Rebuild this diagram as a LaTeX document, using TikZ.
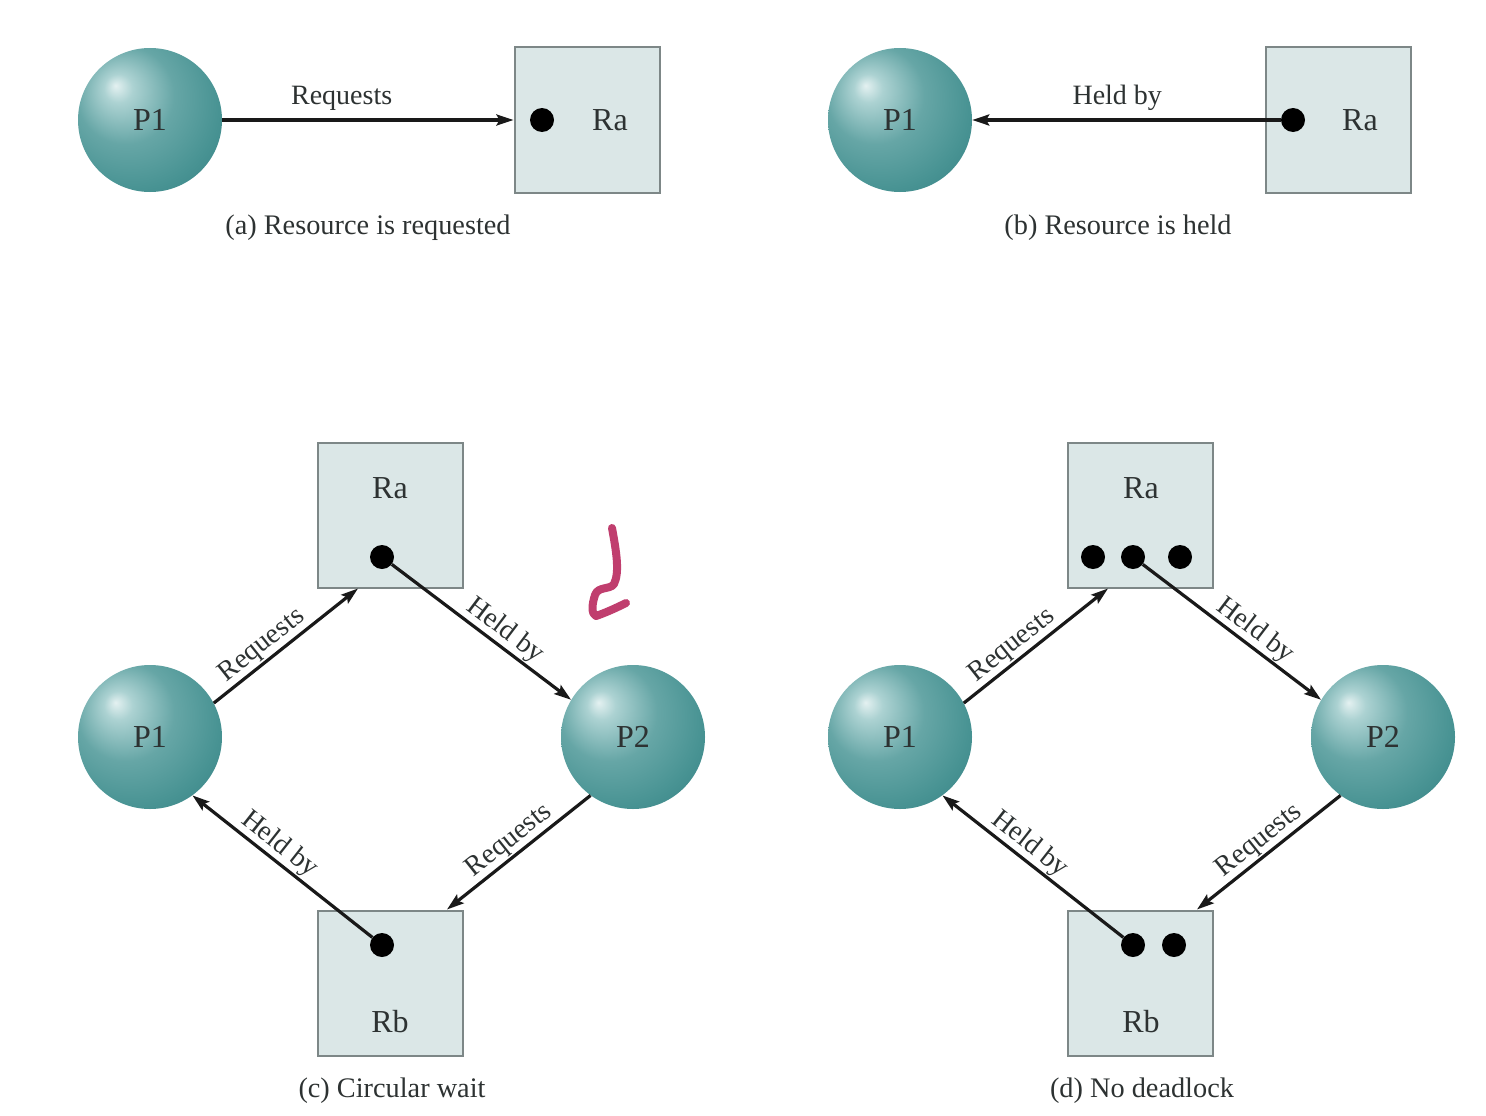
\documentclass[tikz,border=0pt]{standalone}
\usepackage{fontspec}
\setmainfont{Liberation Serif}
\usetikzlibrary{arrows.meta,calc}
\definecolor{hlc}{RGB}{228,241,241}
\definecolor{m1c}{RGB}{172,210,210}
\definecolor{m2c}{RGB}{102,166,166}
\definecolor{m3c}{RGB}{72,147,147}
\definecolor{edc}{RGB}{52,126,129}
\pgfdeclareradialshading{procball}{\pgfpoint{-12bp}{12bp}}{color(0bp)=(hlc); color(5bp)=(m1c); color(17bp)=(m2c); color(30bp)=(m3c); color(42bp)=(edc); color(60bp)=(edc)}
\definecolor{boxfill}{RGB}{219,231,231}
\definecolor{boxdraw}{RGB}{125,135,135}
\definecolor{txt}{RGB}{45,50,50}
\definecolor{arrc}{RGB}{25,25,25}
\definecolor{pinkmark}{RGB}{192,62,110}
\tikzset{
 proc/.style={circle, minimum size=144pt, inner sep=0pt, shading=procball, font=\fontsize{32}{34}\selectfont, text=txt},
 res/.style={rectangle, minimum size=145pt, inner sep=0pt, fill=boxfill, draw=boxdraw, line width=2pt},
 tok/.style={circle, minimum size=24pt, inner sep=0pt, fill=black},
 rlabel/.style={font=\fontsize{32}{34}\selectfont, text=txt, inner sep=0pt},
 arr/.style={line width=3.2pt, draw=arrc, -{Stealth[length=17pt,width=11pt,inset=3pt]}},
 elab/.style={font=\fontsize{28}{30}\selectfont, text=txt, inner sep=1pt},
 capt/.style={font=\fontsize{28.3}{30}\selectfont, text=txt, inner sep=0pt},
}
\begin{document}
\begin{tikzpicture}[x=1pt,y=-1pt]
\useasboundingbox (0,0) rectangle (1486,1116);
% (a)
\node[proc] (P1a) at (150,120) {P1};
\node[res] (Raa) at (587,120) {};
\node[tok] (ta) at (542,120) {};
\node[rlabel] (Raal) at (610,120) {Ra};
\draw[arr] (P1a) -- (Raa) node[elab, above=7pt, pos=0.41] (la1) {Requests};
\node[capt] (capa) at (368,228) {(a) Resource is requested};
% (b)
\node[proc] (P1b) at (900,120) {P1};
\node[res] (Rab) at (1338,120) {};
\node[tok] (tb) at (1293,120) {};
\node[rlabel] (Rabl) at (1360,120) {Ra};
\draw[arr] (tb) -- (P1b) node[elab, above=7pt, pos=0.53] (lb1) {Held by};
\node[capt] (capb) at (1118,228) {(b) Resource is held};
% (c)
\node[proc] (P1c) at (150,737) {P1};
\node[proc] (P2c) at (633,737) {P2};
\node[res] (Rac) at (390,515) {};
\node[res] (Rbc) at (390,983) {};
\node[rlabel] (Racl) at (390,488) {Ra};
\node[rlabel] (Rbcl) at (390,1022) {Rb};
\node[tok] (tc1) at (382,557) {};
\node[tok] (tc2) at (382,945) {};
\coordinate (cc1) at ([xshift=-32pt]Rac.south);
\coordinate (cc2) at ([xshift=57pt]Rbc.north);
\draw[arr] (P1c.28) -- (cc1) node[elab, sloped, above=0pt, pos=0.4] (lc1) {Requests};
\draw[arr] (tc1) -- (P2c.149) node[elab, sloped, above=0pt, pos=0.58] (lc2) {Held by};
\draw[arr] (P2c.-126) -- (cc2) node[elab, sloped, above=0pt, pos=0.5] (lc3) {Requests};
\draw[arr] (tc2) -- (P1c.-54) node[elab, sloped, above=0pt, pos=0.57] (lc4) {Held by};
\node[capt] (capc) at (392,1091) {(c) Circular wait};
% (d)
\node[proc] (P1d) at (900,737) {P1};
\node[proc] (P2d) at (1383,737) {P2};
\node[res] (Rad) at (1140,515) {};
\node[res] (Rbd) at (1140,983) {};
\node[rlabel] (Radl) at (1141,488) {Ra};
\node[rlabel] (Rbdl) at (1141,1022) {Rb};
\node[tok] (td1) at (1093,557) {};
\node[tok] (td2) at (1133,557) {};
\node[tok] (td3) at (1180,557) {};
\node[tok] (td4) at (1133,945) {};
\node[tok] (td5) at (1174,945) {};
\coordinate (cd1) at ([xshift=-32pt]Rad.south);
\coordinate (cd2) at ([xshift=57pt]Rbd.north);
\draw[arr] (P1d.28) -- (cd1) node[elab, sloped, above=0pt, pos=0.4] (ld1) {Requests};
\draw[arr] (td2) -- (P2d.149) node[elab, sloped, above=0pt, pos=0.58] (ld2) {Held by};
\draw[arr] (P2d.-126) -- (cd2) node[elab, sloped, above=0pt, pos=0.5] (ld3) {Requests};
\draw[arr] (td4) -- (P1d.-54) node[elab, sloped, above=0pt, pos=0.57] (ld4) {Held by};
\node[capt] (capd) at (1142,1091) {(d) No deadlock};
% hand-drawn mark
\draw[pinkmark, line width=8pt, line cap=round, line join=round]
  (612,528) .. controls (616,550) and (620,572) .. (614,584)
  .. controls (610,590) and (598,586) .. (595,595)
  .. controls (592,604) and (591,614) .. (596,616)
  .. controls (605,613) and (616,608) .. (626,603);
\end{tikzpicture}
\end{document}
